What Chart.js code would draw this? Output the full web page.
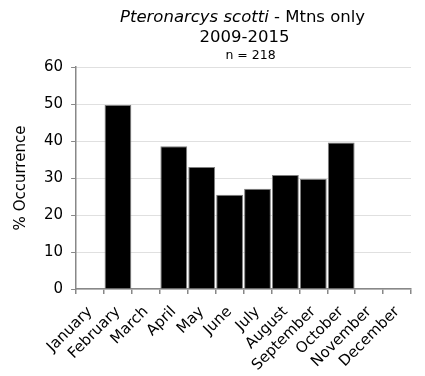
<!DOCTYPE html>
<html lang="en">
<head>
    <meta charset="UTF-8">
    <title>Pteronarcys scotti - Mtns only</title>
    <script src="https://cdn.jsdelivr.net/npm/chart.js@4.4.0/dist/chart.umd.min.js"></script>
    <style>
        body { margin: 0; background: #fff; font-family: 'DejaVu Sans', sans-serif; }
        #wrap { width: 425px; height: 376px; position: relative; }
        #probe { position: absolute; left: -999px; top: 0; font-family: 'DejaVu Sans'; }
    </style>
</head>
<body>
<span id="probe">Occurrence <i>scotti</i></span>
<div id="wrap"><canvas id="myChart" width="425" height="376"></canvas></div>

<script>
    var months = ['January', 'February', 'March', 'April', 'May', 'June',
        'July', 'August', 'September', 'October', 'November', 'December'];
    var occurrence = [0, 49.7, 0, 38.6, 33.0, 25.5, 27.1, 30.8, 29.8, 39.6, 0, 0];
    var yTicks = [0, 10, 20, 30, 40, 50, 60];

    var species = 'Pteronarcys scotti';
    var titleRest = ' - Mtns only';
    var years = '2009-2015';
    var sampleSize = 'n = 218';

    var FONT = 'DejaVu Sans';

    // title block: italic species name followed by plain text, centred over the plot
    var titlePlugin = {
        id: 'mixedTitle',
        afterDraw: function (chart) {
            var c = chart.ctx;
            var area = chart.chartArea;
            var cx = (area.left + area.right) / 2 - 1;
            c.save();
            c.fillStyle = '#000';
            c.textBaseline = 'middle';

            c.font = 'italic 16.5px "' + FONT + '"';
            var w1 = c.measureText(species).width;
            c.font = '16.5px "' + FONT + '"';
            var w2 = c.measureText(titleRest).width;
            var x0 = cx - (w1 + w2) / 2;
            c.textAlign = 'left';
            c.font = 'italic 16.5px "' + FONT + '"';
            c.fillText(species, x0, 18);
            c.font = '16.5px "' + FONT + '"';
            c.fillText(titleRest, x0 + w1, 18);

            c.textAlign = 'center';
            c.fillText(years, cx + 2, 38);
            c.font = '12.5px "' + FONT + '"';
            c.fillText(sampleSize, cx + 8, 56);
            c.restore();
        }
    };

    function draw() {
        var ctx = document.getElementById('myChart').getContext('2d');
        var chart = new Chart(ctx, {
            type: 'bar',
            data: {
                labels: months,
                datasets: [{
                    data: occurrence,
                    backgroundColor: '#000',
                    borderColor: '#7f7f7f',
                    borderWidth: 1,
                    barPercentage: 0.96,
                    categoryPercentage: 1
                }]
            },
            options: {
                responsive: false,
                animation: false,
                layout: { padding: { top: 67, right: 14, left: 12, bottom: 0 } },
                plugins: {
                    legend: { display: false },
                    tooltip: { enabled: false },
                    title: { display: false }
                },
                scales: {
                    x: {
                        // keep the month band at a fixed height so the plot ends where it should
                        afterFit: function (scale) { scale.height = 87; },
                        grid: {
                            drawOnChartArea: false,
                            tickLength: 5,
                            tickColor: '#888',
                            lineWidth: 1.5
                        },
                        border: { color: '#888', width: 1.5 },
                        ticks: {
                            color: '#000',
                            font: { family: FONT, size: 15 },
                            minRotation: 45,
                            maxRotation: 45,
                            padding: 9,
                            autoSkip: false
                        }
                    },
                    y: {
                        min: 0,
                        max: 60,
                        afterBuildTicks: function (axis) {
                            axis.ticks = yTicks.map(function (v) { return { value: v }; });
                        },
                        grid: {
                            color: '#c0c0c0',
                            tickColor: '#888',
                            tickLength: 5,
                            tickBorderDash: [],
                            lineWidth: 1
                        },
                        border: { color: '#888', width: 1.5, dash: [1, 1] },
                        ticks: {
                            color: '#000',
                            font: { family: FONT, size: 15 },
                            padding: 8
                        },
                        title: {
                            display: true,
                            text: '% Occurrence',
                            color: '#000',
                            font: { family: FONT, size: 15 },
                            padding: { top: 0, bottom: 6 }
                        }
                    }
                }
            },
            plugins: [titlePlugin]
        });
    }

    Promise.all([
        document.fonts.load('14px "DejaVu Sans"'),
        document.fonts.load('italic 14px "DejaVu Sans"')
    ]).then(draw, draw);
</script>
</body>
</html>
